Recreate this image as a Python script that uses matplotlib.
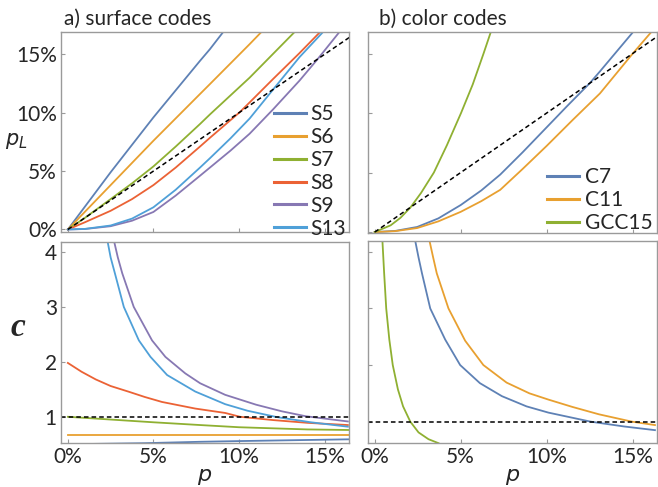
import matplotlib
matplotlib.use("Agg")
import matplotlib.pyplot as plt

plt.rcParams['font.family'] = ['Lato', 'DejaVu Sans']

# colours (Mathematica-like)
blue = '#5E81B5'
orange = '#E8A030'
green = '#8FB032'
red = '#EB6235'
purple = '#8778B3'
cyan = '#4FA0D8'

# ---- a) surface codes, logical error rate (p in %, pL in %)
s5_p = [0, 2.5, 5, 7.72, 8.3, 9.07]
s5_pl = [0, 4.9, 9.6, 14.44, 15.44, 16.9]
s6_p = [0, 2.5, 5, 7.72, 8.3, 10.62, 11.3]
s6_pl = [0, 3.8, 7.6, 11.6, 12.45, 15.87, 16.9]
s7_p = [0, 1, 2.5, 3.75, 5, 6.3, 7.72, 8.3, 10.62, 13.24]
s7_pl = [0, 1.0, 2.6, 3.95, 5.4, 7.1, 9.03, 9.85, 13.0, 16.9]
s8_p = [0, 1, 2.5, 3.75, 5, 6.3, 7.72, 8.3, 10.04, 10.62, 12.0, 13.53, 14.73]
s8_pl = [0, 0.62, 1.6, 2.6, 3.8, 5.3, 7.1, 7.85, 10.04, 10.88, 12.9, 15.1, 16.9]
s9_p = [0, 1, 2.5, 3.75, 5, 6.3, 7.72, 8.3, 9.5, 10.62, 12.0, 13.53, 14.6, 15.86]
s9_pl = [0, 0.04, 0.28, 0.75, 1.5, 2.9, 4.6, 5.3, 6.75, 8.2, 10.3, 12.74, 14.6, 16.9]
s13_p = [0, 1, 2.5, 3.75, 5, 6.3, 7.72, 8.3, 9.5, 10.62, 12.0, 13.53, 14.9]
s13_pl = [0, 0.05, 0.34, 0.93, 1.9, 3.4, 5.3, 6.1, 7.8, 9.5, 12.0, 14.75, 16.9]

# ---- a) surface codes, c
s5c_p = [0, 4.5, 7.7, 10, 12, 14, 16.4]
s5c = [0.5, 0.52, 0.545, 0.558, 0.568, 0.578, 0.59]
s6c_p = [0, 16.4]
s6c = [0.667, 0.667]
s7c_p = [0, 2.5, 5, 7.72, 10, 12, 14, 16.4]
s7c = [1.0, 0.95, 0.9, 0.85, 0.81, 0.79, 0.77, 0.76]
s8c_p = [0, 0.8, 1.63, 2.5, 3.57, 4.5, 5.5, 7.44, 9.19, 10.06, 12, 14, 16.36]
s8c = [1.98, 1.82, 1.68, 1.56, 1.455, 1.36, 1.27, 1.15, 1.07, 1.0, 0.94, 0.89, 0.85]
s9c_p = [2.69, 2.92, 3.18, 3.85, 4.92, 5.7, 6.86, 7.73, 9.19, 11.0, 12.5, 13.9, 16.36]
s9c = [4.21, 3.9, 3.61, 3.0, 2.39, 2.09, 1.79, 1.61, 1.40, 1.22, 1.1, 1.01, 0.915]
s13c_p = [2.31, 2.5, 2.75, 3.27, 4.15, 4.83, 5.8, 7.44, 9.19, 10.5, 12.2, 14.2, 16.36]
s13c = [4.21, 3.9, 3.61, 3.0, 2.39, 2.09, 1.76, 1.46, 1.23, 1.11, 0.995, 0.9, 0.82]

# ---- b) color codes, logical error rate
c7_p = [0, 1.2, 2.47, 3.7, 5, 6.2, 7.3, 8.6, 10, 11.2, 12.5, 13.1, 15.02]
c7_pl = [0, 0.1, 0.43, 1.15, 2.27, 3.5, 4.83, 6.7, 8.8, 10.6, 12.5, 13.5, 16.8]
c11_p = [0, 1.2, 2.47, 3.7, 5, 6.2, 7.3, 8.6, 10, 11.5, 13.1, 14.92, 16.08]
c11_pl = [0, 0.08, 0.34, 0.9, 1.7, 2.6, 3.55, 5.3, 7.24, 9.4, 11.65, 14.85, 16.8]
g15_p = [0, 0.93, 1.5, 2.08, 2.7, 3.44, 4.2, 5.02, 5.7, 6.33, 6.75]
g15_pl = [0, 0.57, 1.2, 2.07, 3.3, 5.0, 7.3, 10.0, 12.4, 15.0, 16.8]

# ---- b) color codes, c
c7c_p = [2.36, 2.55, 2.75, 3.23, 4.1, 4.97, 6.12, 7.4, 8.83, 10.1, 12.56, 14.5, 16.3]
c7c = [4.19, 3.9, 3.62, 3.0, 2.45, 2.0, 1.68, 1.45, 1.27, 1.16, 1.0, 0.915, 0.85]
c11c_p = [3.19, 3.4, 3.61, 4.29, 5.26, 6.32, 7.67, 9.0, 10.1, 11.5, 13.04, 14.96, 16.3]
c11c = [4.19, 3.9, 3.62, 3.0, 2.43, 2.0, 1.69, 1.50, 1.39, 1.26, 1.13, 1.0, 0.94]
g15c_p = [0.45, 0.55, 0.67, 0.85, 1.05, 1.35, 1.65, 2.07, 2.55, 3.13, 3.71]
g15c = [4.19, 3.62, 3.0, 2.45, 2.0, 1.57, 1.27, 1.0, 0.81, 0.69, 0.62]

pct_ticks = [0, 5, 10, 15]
pct_labels = ['0%', '5%', '10%', '15%']
c_ticks = [1, 2, 3, 4]

fig = plt.figure(figsize=(6.58, 4.87), dpi=100)
ax1 = fig.add_axes([0.0927, 0.524, 0.437, 0.410])
ax2 = fig.add_axes([0.0927, 0.090, 0.437, 0.413])
ax3 = fig.add_axes([0.559, 0.521, 0.439, 0.413])
ax4 = fig.add_axes([0.559, 0.090, 0.439, 0.415])

lw = 1.3
frame = '#9a9a9a'
ink = '#262626'
fs = 15
for ax in (ax1, ax2, ax3, ax4):
    for sp in ax.spines.values():
        sp.set_color(frame)
        sp.set_linewidth(1.0)
    ax.tick_params(direction='in', length=3, color=frame, labelcolor=ink,
                   labelsize=fs, pad=3)
    ax.set_xlim(-0.4, 16.4)
    ax.set_xticks(pct_ticks)

# a) top
for x, y, col, lab in [(s5_p, s5_pl, blue, 'S5'), (s6_p, s6_pl, orange, 'S6'),
                       (s7_p, s7_pl, green, 'S7'), (s8_p, s8_pl, red, 'S8'),
                       (s9_p, s9_pl, purple, 'S9'), (s13_p, s13_pl, cyan, 'S13')]:
    ax1.plot(x, y, color=col, lw=lw, label=lab)
ax1.plot([0, 17], [0, 17], color='black', lw=1.1, ls=(0, (3, 2)))
ax1.set_ylim(-0.2, 16.9)
ax1.set_yticks(pct_ticks)
ax1.set_yticklabels(pct_labels)
ax1.set_xticklabels([])
ax1.set_ylabel(r'$p_L$', fontsize=15, rotation=0, color=ink, va='center')
ax1.yaxis.set_label_coords(-0.155, 0.455)
ax1.set_title('a) surface codes', fontsize=fs, loc='left', x=0.01, pad=5, color=ink)
leg = ax1.legend(loc='lower right', bbox_to_anchor=(1.0, -0.05), frameon=False,
                 fontsize=fs, handlelength=1.5, handletextpad=0.2,
                 labelspacing=0.14, borderaxespad=0.05, borderpad=0.1)
for t in leg.get_texts():
    t.set_color(ink)
for h in leg.get_lines():
    h.set_linewidth(2.2)

# a) bottom
for x, y, col in [(s5c_p, s5c, blue), (s6c_p, s6c, orange), (s7c_p, s7c, green),
                  (s8c_p, s8c, red), (s9c_p, s9c, purple), (s13c_p, s13c, cyan)]:
    ax2.plot(x, y, color=col, lw=lw)
ax2.axhline(1, color='black', lw=1.1, ls=(0, (3, 2)))
ax2.set_ylim(0.52, 4.18)
ax2.set_yticks(c_ticks)
ax2.set_xticklabels(pct_labels)
ax2.set_ylabel('c', fontsize=24, rotation=0, family='Liberation Serif',
               style='italic', weight='bold', color=ink, va='center')
ax2.yaxis.set_label_coords(-0.15, 0.575)

# b) top
for x, y, col, lab in [(c7_p, c7_pl, blue, 'C7'), (c11_p, c11_pl, orange, 'C11'),
                       (g15_p, g15_pl, green, 'GCC15')]:
    ax3.plot(x, y, color=col, lw=lw, label=lab)
ax3.plot([0, 17], [0, 17], color='black', lw=1.1, ls=(0, (3, 2)))
ax3.set_ylim(-0.1, 16.8)
ax3.set_yticks(pct_ticks)
ax3.set_yticklabels([])
ax3.set_xticklabels([])
ax3.set_title('b) color codes', fontsize=fs, loc='left', x=0.04, pad=5, color=ink)
leg = ax3.legend(loc='lower right', bbox_to_anchor=(1.0, -0.02), frameon=False,
                 fontsize=fs, handlelength=1.5, handletextpad=0.3,
                 labelspacing=0.14, borderaxespad=0.1, borderpad=0.1)
for t in leg.get_texts():
    t.set_color(ink)
for h in leg.get_lines():
    h.set_linewidth(2.2)

# b) bottom
for x, y, col in [(c7c_p, c7c, blue), (c11c_p, c11c, orange), (g15c_p, g15c, green)]:
    ax4.plot(x, y, color=col, lw=lw)
ax4.axhline(1, color='black', lw=1.1, ls=(0, (3, 2)))
ax4.set_ylim(0.62, 4.19)
ax4.set_yticks(c_ticks)
ax4.set_yticklabels([])
ax4.set_xticklabels(pct_labels)

for ax in (ax2, ax4):
    ax.set_xlabel(r'$p$', fontsize=16, labelpad=0, color=ink)

fig.savefig('out.png', dpi=100)
